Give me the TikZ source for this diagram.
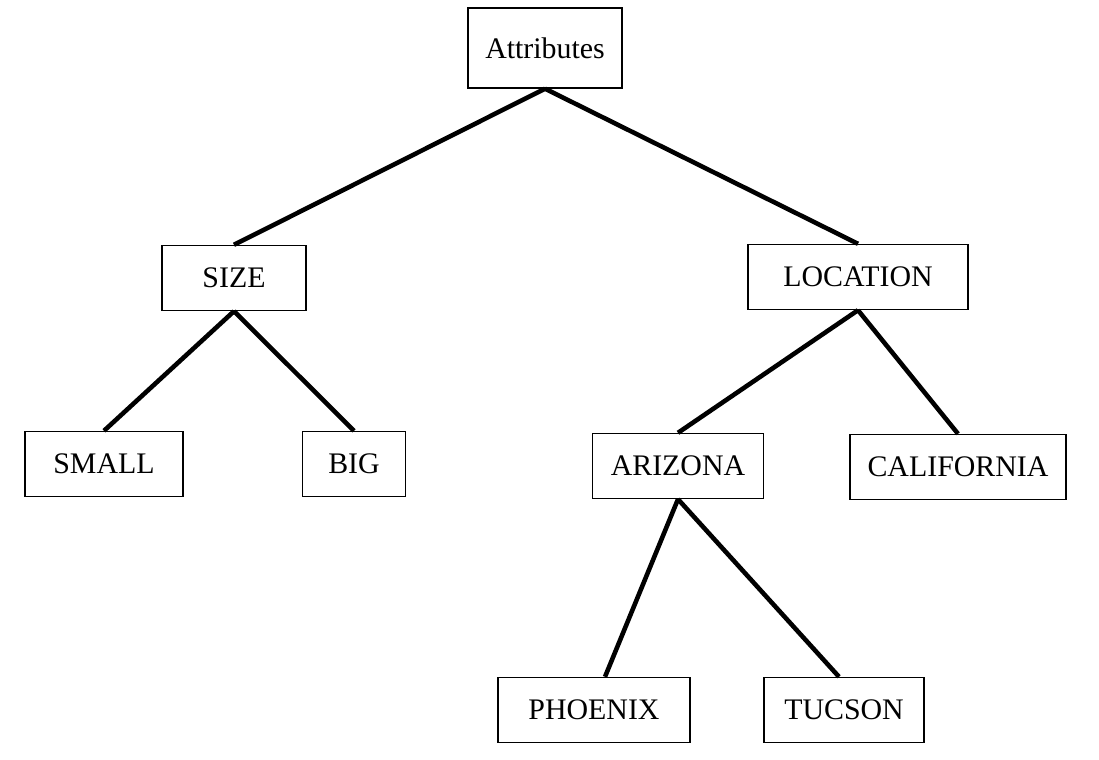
\documentclass[tikz,border=0pt]{standalone}
\usepackage{fontspec}
\setmainfont{Liberation Serif}
\begin{document}
\begin{tikzpicture}[x=0.02cm, y=-0.02cm,
    attr/.style={draw, line width=0.8pt, minimum height=1.3cm, inner sep=0pt,
        font=\fontsize{17}{20}\selectfont},
    edge/.style={line width=2.6pt}]
    \useasboundingbox (0,0) rectangle (1099,760);

    \node[attr, minimum width=3.08cm, minimum height=1.6cm] (attributes) at (545,48) {Attributes};
    \node[attr, minimum width=2.88cm] (size) at (234,278) {SIZE};
    \node[attr, minimum width=4.4cm] (location) at (858,277) {LOCATION};
    \node[attr, minimum width=3.16cm] (small) at (104,464) {SMALL};
    \node[attr, minimum width=2.06cm] (big) at (354,464) {BIG};
    \node[attr, minimum width=3.42cm] (arizona) at (678,466) {ARIZONA};
    \node[attr, minimum width=4.32cm] (california) at (958,467) {CALIFORNIA};
    \node[attr, minimum width=3.84cm] (phoenix) at (594,710) {PHOENIX};
    \node[attr, minimum width=3.2cm] (tucson) at (844,710) {TUCSON};

    \draw[edge] (attributes.south) -- (size.north);
    \draw[edge] (attributes.south) -- (location.north);
    \draw[edge] (size.south) -- (small.north);
    \draw[edge] (size.south) -- (big.north);
    \draw[edge] (location.south) -- (arizona.north);
    \draw[edge] (location.south) -- (california.north);
    \draw[edge] (arizona.south) -- ([xshift=0.22cm]phoenix.north);
    \draw[edge] (arizona.south) -- ([xshift=-0.1cm]tucson.north);
\end{tikzpicture}
\end{document}
